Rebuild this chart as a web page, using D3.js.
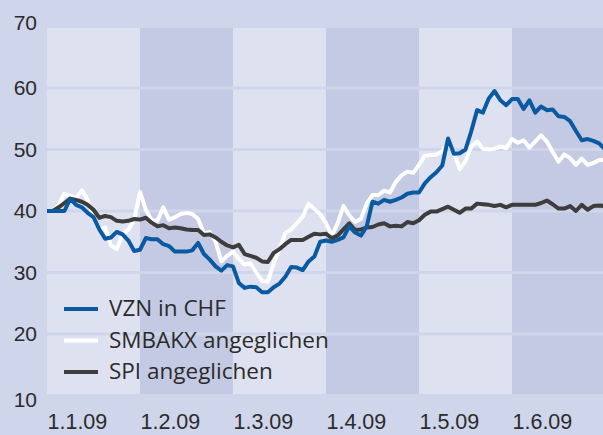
<!DOCTYPE html>
<html>
<head>
<meta charset="utf-8">
<script src="https://cdn.jsdelivr.net/npm/d3@7"></script>
<style>
  html, body { margin: 0; padding: 0; background: #cfd5ea; }
  svg { display: block; font-family: "Open Sans", "Noto Sans", sans-serif; }
</style>
</head>
<body>
<svg id="chart" width="603" height="435"></svg>
<script>
// month labels and y ticks
const months = ["1.1.09", "1.2.09", "1.3.09", "1.4.09", "1.5.09", "1.6.09"];
const yTicks = [10, 20, 30, 40, 50, 60, 70];
const stepsPerMonth = 16; // one value every 1/16 month

const vzn = [40, 40, 40, 40, 42, 41, 40.6, 39.7, 39, 37, 35.5, 35.7, 36.6, 36.2, 35.2, 33.5,
  33.7, 35.6, 35.4, 35.4, 34.6, 34.3, 33.4, 33.4, 33.4, 33.6, 34.8, 33, 32.1, 31, 30.3, 31.2,
  31, 28.3, 27.5, 27.7, 27.6, 26.8, 26.8, 27.6, 28.2, 29.3, 30.9, 30.8, 30.4, 31.8, 32.6, 35,
  35.2, 35, 35.3, 35.7, 37.5, 36.5, 36, 37.5, 41.5, 41.2, 41.8, 41.5, 41.8, 42.2, 42.8, 43,
  43, 44.5, 45.5, 46.3, 47.4, 51.8, 49.3, 49.4, 50, 53, 56.4, 56, 58.3, 59.5, 58, 57.2,
  58.2, 58.2, 56.6, 58, 56, 57, 56.4, 56.5, 55.4, 55.3, 54.6, 53, 51.5, 51.7, 51.4, 51, 50];

const smbakx = [40, 40, 41, 42.8, 42.5, 42.1, 43.4, 41.8, 39, 37, 37.3, 34.4, 33.8, 36.2, 37, 38.6,
  43.1, 40.2, 38.5, 38.4, 40.6, 38.6, 39, 39.5, 39.7, 39.5, 38.7, 36.3, 36.6, 35, 31.8, 32.7,
  33.4, 32.2, 31.3, 31.5, 30, 28.6, 28.5, 31.5, 33.8, 36.4, 37, 38, 39.1, 41.2, 40.3, 39.5,
  38, 36, 38, 40.8, 39.3, 38.2, 38.7, 41.2, 42.6, 42.6, 43.3, 43, 44.7, 45.8, 46.4, 46.2,
  47.5, 49, 49.1, 49.2, 49.7, 51, 49.5, 46.8, 48.1, 50.5, 51.3, 50.1, 50, 50.1, 50.5, 50.2,
  51.7, 51.1, 51.5, 50.3, 51.3, 52.3, 51.3, 49.6, 48, 49.2, 48.6, 47.5, 48.5, 47.5, 47.8, 48.3, 48.3];

const spi = [40, 40, 40.6, 41.3, 42, 41.8, 41.5, 41, 40.2, 38.9, 39.2, 39, 38.4, 38.3, 38.4, 38.7,
  38.6, 38.9, 38.1, 37.5, 37.7, 37.2, 37.3, 37.2, 37, 36.9, 36.9, 36.1, 36.2, 35.7, 35, 34.4,
  34.1, 34.5, 33, 32.7, 32.4, 31.8, 31.7, 33.2, 33.8, 34.6, 35.3, 35.3, 35.3, 35.8, 36.3, 36.2,
  36.3, 35.6, 36, 37, 38, 36.9, 37, 37.3, 37.4, 37.8, 38, 37.5, 37.6, 37.5, 38.2, 38,
  38.5, 39.4, 39.9, 39.9, 40.3, 40.7, 40.2, 39.7, 40.4, 40.4, 41.2, 41.1, 41, 40.8, 41, 40.6,
  41, 41, 41, 41, 41, 41.3, 41.7, 41.1, 40.4, 40.4, 40.8, 40, 41, 40.2, 40.8, 40.9, 40.8];

const seriesNames = ["VZN in CHF", "SMBAKX angeglichen", "SPI angeglichen"];
const seriesColors = ["#0a5aa2", "#ffffff", "#3d3d3d"];

function drawChart() {
    const width = 603, height = 435;
    const plot = { left: 47, right: 603, top: 26.5, bottom: 395.5 };
    const svg = d3.select("#chart");

    const x = d3.scaleLinear().domain([0, 6]).range([plot.left, plot.left + 93 * 6]);
    const y = d3.scaleLinear().domain([10, 70]).range([plot.bottom, plot.top]);

    svg.append("rect").attr("width", width).attr("height", height).attr("fill", "#cfd5ea");

    svg.append("clipPath").attr("id", "plot-clip")
        .append("rect")
        .attr("x", plot.left).attr("y", plot.top)
        .attr("width", plot.right - plot.left).attr("height", plot.bottom - plot.top);

    // alternating month bands
    svg.append("g").attr("clip-path", "url(#plot-clip)")
        .selectAll("rect")
        .data(months)
        .enter()
        .append("rect")
        .attr("x", (d, i) => x(i))
        .attr("y", plot.top)
        .attr("width", (d, i) => x(i + 1) - x(i))
        .attr("height", plot.bottom - plot.top)
        .attr("fill", (d, i) => i % 2 === 0 ? "#dee2f0" : "#c4cae3");

    // horizontal grid lines in background colour
    svg.append("g")
        .selectAll("line")
        .data(yTicks)
        .enter()
        .append("line")
        .attr("x1", plot.left).attr("x2", plot.right)
        .attr("y1", d => y(d)).attr("y2", d => y(d))
        .attr("stroke", "#cfd5ea")
        .attr("stroke-width", 3);

    // y axis
    const yAxis = svg.append("g")
        .attr("transform", `translate(${plot.left - 10},0)`)
        .call(d3.axisLeft(y).tickValues(yTicks).tickSize(0).tickPadding(0));
    yAxis.select(".domain").remove();
    yAxis.selectAll("text")
        .attr("font-size", 21)
        .attr("font-family", null)
        .attr("fill", "#2b2b2b")
        .attr("dy", d => d === 70 ? "0.12em" : d === 10 ? "0.52em" : "0.32em");

    // x axis, labels start at each band
    const xAxis = svg.append("g")
        .attr("transform", `translate(0,${plot.bottom})`)
        .call(d3.axisBottom(x).tickValues(d3.range(months.length)).tickFormat(i => months[i]).tickSize(0));
    xAxis.select(".domain").remove();
    xAxis.selectAll("text")
        .attr("font-size", 21.5)
        .attr("font-family", null)
        .attr("fill", "#2b2b2b")
        .attr("text-anchor", "start")
        .attr("y", 33)
        .attr("dy", 0);

    // lines
    const line = d3.line()
        .x((d, i) => x(i / stepsPerMonth))
        .y(d => y(d));

    const lines = svg.append("g").attr("clip-path", "url(#plot-clip)");
    [smbakx, spi, vzn].forEach(values => {
        const idx = values === vzn ? 0 : values === smbakx ? 1 : 2;
        lines.append("path")
            .datum(values)
            .attr("d", line)
            .attr("fill", "none")
            .attr("stroke", seriesColors[idx])
            .attr("stroke-width", 4)
            .attr("stroke-linejoin", "round");
    });

    // legend
    const legend = svg.append("g").attr("transform", "translate(64,309)");
    const rows = legend.selectAll("g")
        .data(seriesNames)
        .enter()
        .append("g")
        .attr("transform", (d, i) => `translate(0,${i * 31.5})`);
    rows.append("line")
        .attr("x1", 0).attr("x2", 34)
        .attr("stroke", (d, i) => seriesColors[i])
        .attr("stroke-width", 4);
    rows.append("text")
        .attr("x", 45)
        .attr("y", 7)
        .attr("font-size", 22.5)
        .attr("fill", "#2b2b2b")
        .text(d => d);
}

drawChart();
</script>
</body>
</html>
